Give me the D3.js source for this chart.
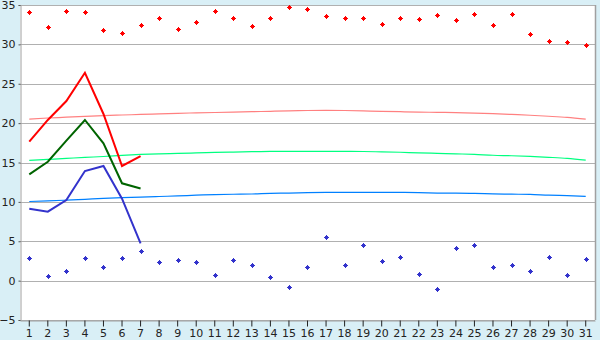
<!DOCTYPE html>
<html>
<head>
<meta charset="utf-8">
<script src="https://cdn.jsdelivr.net/npm/d3@7"></script>
<style>
  body { margin: 0; background: #d9eff6; }
  svg { display: block; }
  text { font-family: "DejaVu Sans", sans-serif; font-size: 11px; fill: #222; }
</style>
</head>
<body>
<script>
var days = d3.range(1, 32);
var yTicks = [-5, 0, 5, 10, 15, 20, 25, 30, 35];

// record highs / lows (points)
var recordMax = [34.1, 32.2, 34.3, 34.1, 31.8, 31.5, 32.5, 33.3, 32.0, 32.9,
                 34.2, 33.3, 32.3, 33.4, 34.7, 34.45, 33.55, 33.4, 33.4, 32.55,
                 33.4, 33.2, 33.7, 33.05, 33.9, 32.4, 33.8, 31.3, 30.4, 30.25, 29.9];
var recordMin = [2.83, 0.55, 1.18, 2.83, 1.69, 2.83, 3.72, 2.33, 2.58, 2.33,
                 0.68, 2.58, 1.94, 0.42, -0.85, 1.69, 5.5, 1.94, 4.5, 2.45,
                 2.96, 0.8, -1.1, 4.1, 4.5, 1.69, 1.94, 1.18, 2.96, 0.68, 2.7];

// normals (thin lines)
var normalMax = [20.52, 20.65, 20.75, 20.85, 20.95, 21.03, 21.1, 21.18, 21.25, 21.3,
                 21.35, 21.4, 21.45, 21.5, 21.55, 21.6, 21.62, 21.6, 21.55, 21.5,
                 21.45, 21.4, 21.37, 21.33, 21.28, 21.2, 21.1, 21.0, 20.87, 20.72, 20.5];
var normalMean = [15.27, 15.4, 15.52, 15.65, 15.76, 15.9, 16.02, 16.1, 16.16, 16.22,
                  16.28, 16.32, 16.38, 16.42, 16.42, 16.42, 16.42, 16.42, 16.4, 16.35,
                  16.3, 16.22, 16.16, 16.1, 16.03, 15.92, 15.86, 15.78, 15.66, 15.52, 15.3];
var normalMin = [10.05, 10.12, 10.22, 10.33, 10.45, 10.53, 10.6, 10.68, 10.76, 10.85,
                 10.93, 10.97, 11.0, 11.08, 11.12, 11.18, 11.2, 11.2, 11.2, 11.2,
                 11.2, 11.18, 11.12, 11.1, 11.08, 11.02, 10.98, 10.95, 10.86, 10.8, 10.7];

// this month so far (thick lines)
var actualMax = [17.64, 20.4, 22.8, 26.4, 21.16, 14.56, 15.8];
var actualMean = [13.5, 15.1, 17.77, 20.4, 17.43, 12.36, 11.7];
var actualMin = [9.14, 8.75, 10.24, 13.92, 14.56, 10.4, 4.74];

var W = 600, H = 340;
var plot = { left: 20, right: 595, top: 5, bottom: 320 };

var svg = d3.select("body").append("svg")
    .attr("width", W)
    .attr("height", H);

var x = d3.scaleBand()
    .domain(days)
    .range([plot.left, plot.right])
    .padding(0);

var cx = d => x(d) + x.bandwidth() / 2;

var y = d3.scaleLinear()
    .domain([-5, 35])
    .range([plot.bottom, plot.top]);

svg.append("rect")
    .attr("x", plot.left)
    .attr("y", plot.top)
    .attr("width", plot.right - plot.left)
    .attr("height", plot.bottom - plot.top)
    .attr("fill", "#fff");

// gridlines
svg.append("g")
    .selectAll("line")
    .data(yTicks)
    .enter()
    .append("line")
    .attr("x1", plot.left)
    .attr("x2", plot.right)
    .attr("y1", d => Math.round(y(d)) + 0.5)
    .attr("y2", d => Math.round(y(d)) + 0.5)
    .attr("stroke", "#b0b0b0");

// y axis
var yAxis = svg.append("g")
    .attr("transform", `translate(${plot.left + 0.5}, 0)`)
    .call(d3.axisLeft(y).tickValues(yTicks).tickSize(2).tickPadding(3)
        .tickFormat(d => d < 0 ? "\u2212" + Math.abs(d) : d));
yAxis.select(".domain").attr("stroke", "#a0a0a0");
yAxis.selectAll(".tick line").attr("stroke", "#555");
yAxis.selectAll(".tick text")
    .style("font-family", "DejaVu Sans, sans-serif")
    .style("font-size", "11px")
    .attr("fill", "#222");

// x axis
var xAxis = svg.append("g")
    .attr("transform", `translate(0, ${plot.bottom + 0.5})`)
    .call(d3.axisBottom(x).tickSize(6).tickPadding(3).tickSizeOuter(0));
xAxis.select(".domain").attr("stroke", "#a0a0a0");
xAxis.selectAll(".tick line").attr("stroke", "#222");
xAxis.selectAll(".tick text")
    .style("font-family", "DejaVu Sans, sans-serif")
    .style("font-size", "11px")
    .attr("fill", "#222");

// right border
svg.append("line")
    .attr("x1", plot.right + 0.5)
    .attr("x2", plot.right + 0.5)
    .attr("y1", plot.top)
    .attr("y2", plot.bottom)
    .attr("stroke", "#a0a0a0")
    .attr("stroke-width", 1.5);

var line = d3.line()
    .x((d, i) => cx(days[i]))
    .y(d => y(d));

// normals
[[normalMax, "#ff8080"], [normalMean, "#00ff80"], [normalMin, "#0080ff"]].forEach(s => {
    svg.append("path")
        .datum(s[0])
        .attr("d", line.curve(d3.curveMonotoneX))
        .attr("fill", "none")
        .attr("stroke", s[1])
        .attr("stroke-width", 1.2);
});

// actuals
[[actualMax, "#ff0000"], [actualMean, "#006400"], [actualMin, "#3333cc"]].forEach(s => {
    svg.append("path")
        .datum(s[0])
        .attr("d", line.curve(d3.curveLinear))
        .attr("fill", "none")
        .attr("stroke", s[1])
        .attr("stroke-width", 2);
});

// records: 3x3 centre with 1px arms
var marker = "M-0.5,-2.5h1v1h1v1h1v1h-1v1h-1v1h-1v-1h-1v-1h-1v-1h1v-1h1z";
[[recordMax, "#ff0000"], [recordMin, "#3333cc"]].forEach(s => {
    svg.append("g")
        .selectAll("path")
        .data(s[0])
        .enter()
        .append("path")
        .attr("d", marker)
        .attr("shape-rendering", "crispEdges")
        .attr("transform", (d, i) => `translate(${Math.round(cx(days[i])) + 0.5}, ${Math.round(y(d)) + 0.5})`)
        .attr("fill", s[1]);
});
</script>
</body>
</html>
